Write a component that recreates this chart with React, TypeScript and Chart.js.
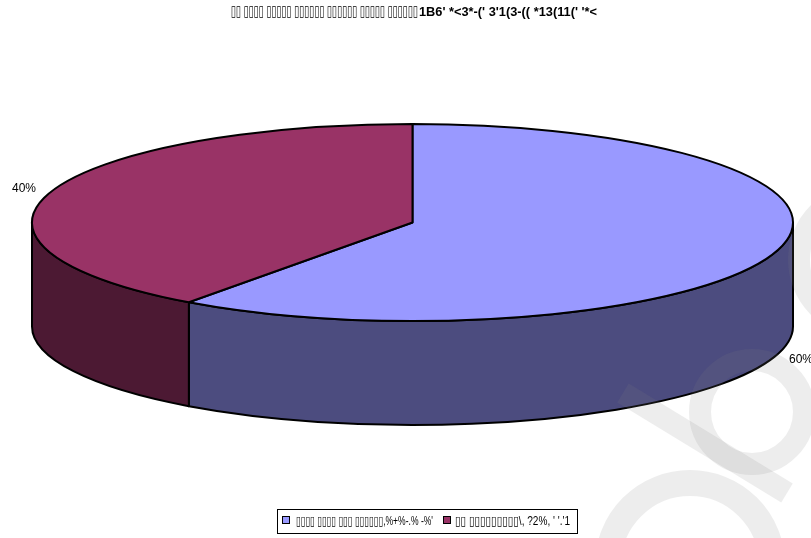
import React, { useEffect, useRef } from "react";
import { Chart, registerables } from "chart.js";

Chart.register(...registerables);

// ---- data ----
const categories: string[] = [
  "▯▯▯▯ ▯▯▯▯ ▯▯▯ ▯▯▯▯▯▯,%+%-.% -%'",
  "▯▯ ▯▯▯▯▯▯▯▯▯\\, ?2%, ' '.'1",
];
const values: number[] = [60, 40];
const topColors: string[] = ["#9999FF", "#993366"];
const sideColors: string[] = ["#4C4C7F", "#4C1933"];
const titleBoxes = "▯▯ ▯▯▯▯ ▯▯▯▯▯ ▯▯▯▯▯▯ ▯▯▯▯▯▯ ▯▯▯▯▯ ▯▯▯▯▯▯";
const titleSymbols = "1Β6' *<3*-(' 3'1(3-(( *13(11(' '*<";

const FONT = "Arial, 'Liberation Sans', 'DejaVu Sans', sans-serif";

const pie3d = {
  id: "pie3d",
  afterDatasetsDraw(chart: any) {
    const ctx: CanvasRenderingContext2D = chart.ctx;
    const { left, right, top, bottom } = chart.chartArea;
    const cx = (left + right) / 2;
    const rx = (right - left) / 2;
    const ry = rx * 0.259;
    const depth = bottom - top - 2 * ry;
    const cy = top + ry;
    const meta = chart.getDatasetMeta(0);
    const arcs = meta.data;
    const total = values.reduce((a, b) => a + b, 0);
    ctx.save();
    ctx.lineWidth = 2;
    ctx.strokeStyle = "#000";
    ctx.lineJoin = "round";

    // sides (front half)
    arcs.forEach((arc: any, i: number) => {
      const { startAngle, endAngle } = arc.getProps(["startAngle", "endAngle"], true);
      const ranges = [
        [0, Math.PI],
        [2 * Math.PI, 3 * Math.PI],
        [-2 * Math.PI, -Math.PI],
      ];
      ranges.forEach(([r0, r1]) => {
        const a1 = Math.max(startAngle, r0);
        const a2 = Math.min(endAngle, r1);
        if (a2 - a1 <= 0.0001) return;
        ctx.beginPath();
        ctx.moveTo(cx + rx * Math.cos(a1), cy + ry * Math.sin(a1));
        ctx.ellipse(cx, cy, rx, ry, 0, a1, a2, false);
        ctx.lineTo(cx + rx * Math.cos(a2), cy + depth + ry * Math.sin(a2));
        ctx.ellipse(cx, cy + depth, rx, ry, 0, a2, a1, true);
        ctx.closePath();
        ctx.fillStyle = sideColors[i];
        ctx.fill();
        ctx.stroke();
      });
    });

    // top faces
    arcs.forEach((arc: any, i: number) => {
      const { startAngle, endAngle } = arc.getProps(["startAngle", "endAngle"], true);
      ctx.beginPath();
      ctx.moveTo(cx, cy);
      ctx.ellipse(cx, cy, rx, ry, 0, startAngle, endAngle, false);
      ctx.closePath();
      ctx.fillStyle = topColors[i];
      ctx.fill();
      ctx.stroke();
    });

    // labels
    ctx.fillStyle = "#000";
    ctx.font = `12px ${FONT}`;
    ctx.textAlign = "center";
    ctx.textBaseline = "middle";
    arcs.forEach((arc: any, i: number) => {
      const { startAngle, endAngle } = arc.getProps(["startAngle", "endAngle"], true);
      const mid = (startAngle + endAngle) / 2;
      const s = Math.sin(mid);
      const x = cx + (rx + 28) * Math.cos(mid);
      const y = cy + (ry + 10) * s + (s > 0 ? depth : 0);
      const pct = Math.round((values[i] / total) * 100) + "%";
      ctx.fillText(pct, x, y);
    });
    ctx.restore();
  },
  afterDraw(chart: any) {
    const ctx: CanvasRenderingContext2D = chart.ctx;
    ctx.save();
    // title
    ctx.fillStyle = "#000";
    ctx.textBaseline = "middle";
    ctx.textAlign = "left";
    ctx.font = `15px ${FONT}`;
    ctx.fillText(titleBoxes, 231, 12, 187);
    ctx.font = `bold 13px ${FONT}`;
    ctx.fillText(titleSymbols, 419, 12, 178);

    // legend
    ctx.lineWidth = 1;
    ctx.strokeStyle = "#000";
    ctx.strokeRect(277.5, 509.5, 300, 24);
    const items = [
      { sx: 282, tx: 296, tw: 137 },
      { sx: 443, tx: 455, tw: 115 },
    ];
    items.forEach((it, i) => {
      ctx.fillStyle = topColors[i];
      ctx.fillRect(it.sx, 516, 8, 8);
      ctx.strokeRect(it.sx + 0.5, 516.5, 7, 7);
      ctx.fillStyle = "#000";
      ctx.font = `13px ${FONT}`;
      ctx.fillText(categories[i], it.tx, 521.5, it.tw);
    });

    // watermark
    ctx.strokeStyle = "rgba(131,131,131,0.14)";
    ctx.lineWidth = 22;
    ctx.beginPath();
    ctx.arc(752, 412, 52, 0, Math.PI * 2);
    ctx.stroke();
    ctx.beginPath();
    ctx.moveTo(623, 393);
    ctx.lineTo(787, 493);
    ctx.stroke();
    ctx.lineWidth = 26;
    ctx.beginPath();
    ctx.arc(690, 565, 82, 0, Math.PI * 2);
    ctx.stroke();
    ctx.lineWidth = 22;
    ctx.beginPath();
    ctx.arc(865, 260, 66, 0, Math.PI * 2);
    ctx.stroke();
    ctx.restore();
  },
};

export default function App() {
  const ref = useRef<HTMLCanvasElement>(null);
  useEffect(() => {
    const chart = new Chart(ref.current as HTMLCanvasElement, {
      type: "pie",
      data: {
        labels: categories,
        datasets: [
          {
            data: values,
            backgroundColor: "rgba(0,0,0,0)",
            borderWidth: 0,
          },
        ],
      },
      options: {
        responsive: false,
        animation: false,
        events: [],
        layout: { padding: { left: 32, right: 18, top: 124, bottom: 113 } },
        plugins: {
          legend: { display: false },
          title: { display: false },
          tooltip: { enabled: false },
        },
      },
      plugins: [pie3d],
    });
    return () => chart.destroy();
  }, []);
  return (
    <div style={{ position: "absolute", left: 0, top: 0, width: 811, height: 538, background: "#fff" }}>
      <canvas ref={ref} width={811} height={538} style={{ display: "block", width: 811, height: 538 }} />
    </div>
  );
}
